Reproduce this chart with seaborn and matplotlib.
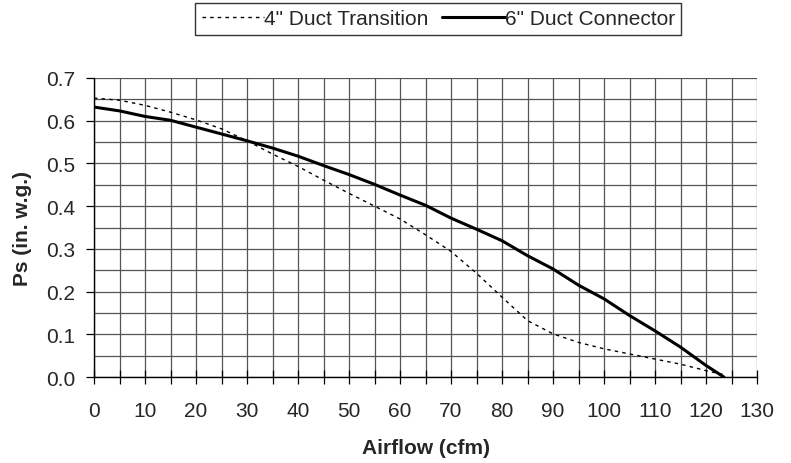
import pandas as pd
import matplotlib
matplotlib.use("Agg")
import matplotlib.pyplot as plt
import seaborn as sns
import numpy as np

# values
airflow_4in = [0, 5, 10, 15, 20, 25, 30, 35, 40, 45, 50, 55, 60, 65, 70, 75,
               80, 85, 90, 95, 100, 105, 110, 115, 120, 124]
ps_4in = [0.653, 0.648, 0.636, 0.620, 0.602, 0.581, 0.553, 0.522, 0.493, 0.461,
          0.430, 0.400, 0.370, 0.333, 0.294, 0.243, 0.187, 0.132, 0.101, 0.081,
          0.066, 0.054, 0.042, 0.030, 0.015, 0.004]

airflow_6in = [0, 5, 10, 15, 20, 25, 30, 35, 40, 45, 50, 55, 60, 65, 70, 75,
               80, 85, 90, 95, 100, 105, 110, 115, 120, 123.5]
ps_6in = [0.632, 0.623, 0.610, 0.601, 0.585, 0.569, 0.553, 0.536, 0.517, 0.495,
          0.474, 0.451, 0.426, 0.402, 0.372, 0.346, 0.319, 0.284, 0.253, 0.215,
          0.183, 0.144, 0.108, 0.070, 0.027, 0.0]

series_names = ['4" Duct Transition', '6" Duct Connector']

df4 = pd.DataFrame({"Airflow": airflow_4in, "Ps": ps_4in})
df6 = pd.DataFrame({"Airflow": airflow_6in, "Ps": ps_6in})

sns.set_theme(style="white")
plt.rcParams['font.family'] = ['Liberation Sans', 'DejaVu Sans']

fig = plt.figure(figsize=(7.91, 4.64), dpi=100)
ax = fig.add_axes([94 / 791, 1 - 378 / 464, (757 - 94) / 791, (378 - 79) / 464])

sns.lineplot(data=df4, x="Airflow", y="Ps", ax=ax, color="black",
             linewidth=1.0, linestyle=(0, (2.5, 3)), label=series_names[0])
sns.lineplot(data=df6, x="Airflow", y="Ps", ax=ax, color="black",
             linewidth=2.2, label=series_names[1])

ax.set_xlim(0, 130)
ax.set_ylim(0, 0.7)
ax.set_xticks(np.arange(0, 131, 10))
ax.set_xticks(np.arange(0, 131, 5), minor=True)
ax.set_yticks(np.arange(0, 0.71, 0.1))
ax.set_yticks(np.arange(0, 0.71, 0.05), minor=True)
ax.set_yticklabels([f"{v:.1f}" for v in np.arange(0, 0.71, 0.1)])

ax.grid(True, which="both", color="#555555", linewidth=0.9)
ax.set_axisbelow(True)
ax.tick_params(axis="x", which="both", direction="inout", length=10, width=0.9,
               color="black", bottom=True, labelsize=15, pad=12)
ax.tick_params(axis="y", which="major", direction="out", length=6, width=0.9,
               color="black", left=True, labelsize=15, pad=7.5)
ax.tick_params(axis="y", which="minor", length=0)

for side in ["top", "right"]:
    ax.spines[side].set_visible(False)
for side in ["left", "bottom"]:
    ax.spines[side].set_color("black")
    ax.spines[side].set_linewidth(1.0)

ax.set_xlabel("Airflow (cfm)", fontsize=15, fontweight="bold", labelpad=13)
ax.set_ylabel("Ps (in. w.g.)", fontsize=15, fontweight="bold", labelpad=10)

ax.legend_.remove()
handles, labels = ax.get_legend_handles_labels()
leg = fig.legend(handles, labels, loc="upper right",
                 bbox_to_anchor=(681 / 791, 1 - 4 / 464),
                 ncol=2, fontsize=15, frameon=True, fancybox=False,
                 handlelength=3.0, handletextpad=0.0, columnspacing=0.65,
                 borderpad=0.3, borderaxespad=0.0, edgecolor="black")
leg.get_frame().set_linewidth(1.0)

plt.savefig("out.png", dpi=100)
